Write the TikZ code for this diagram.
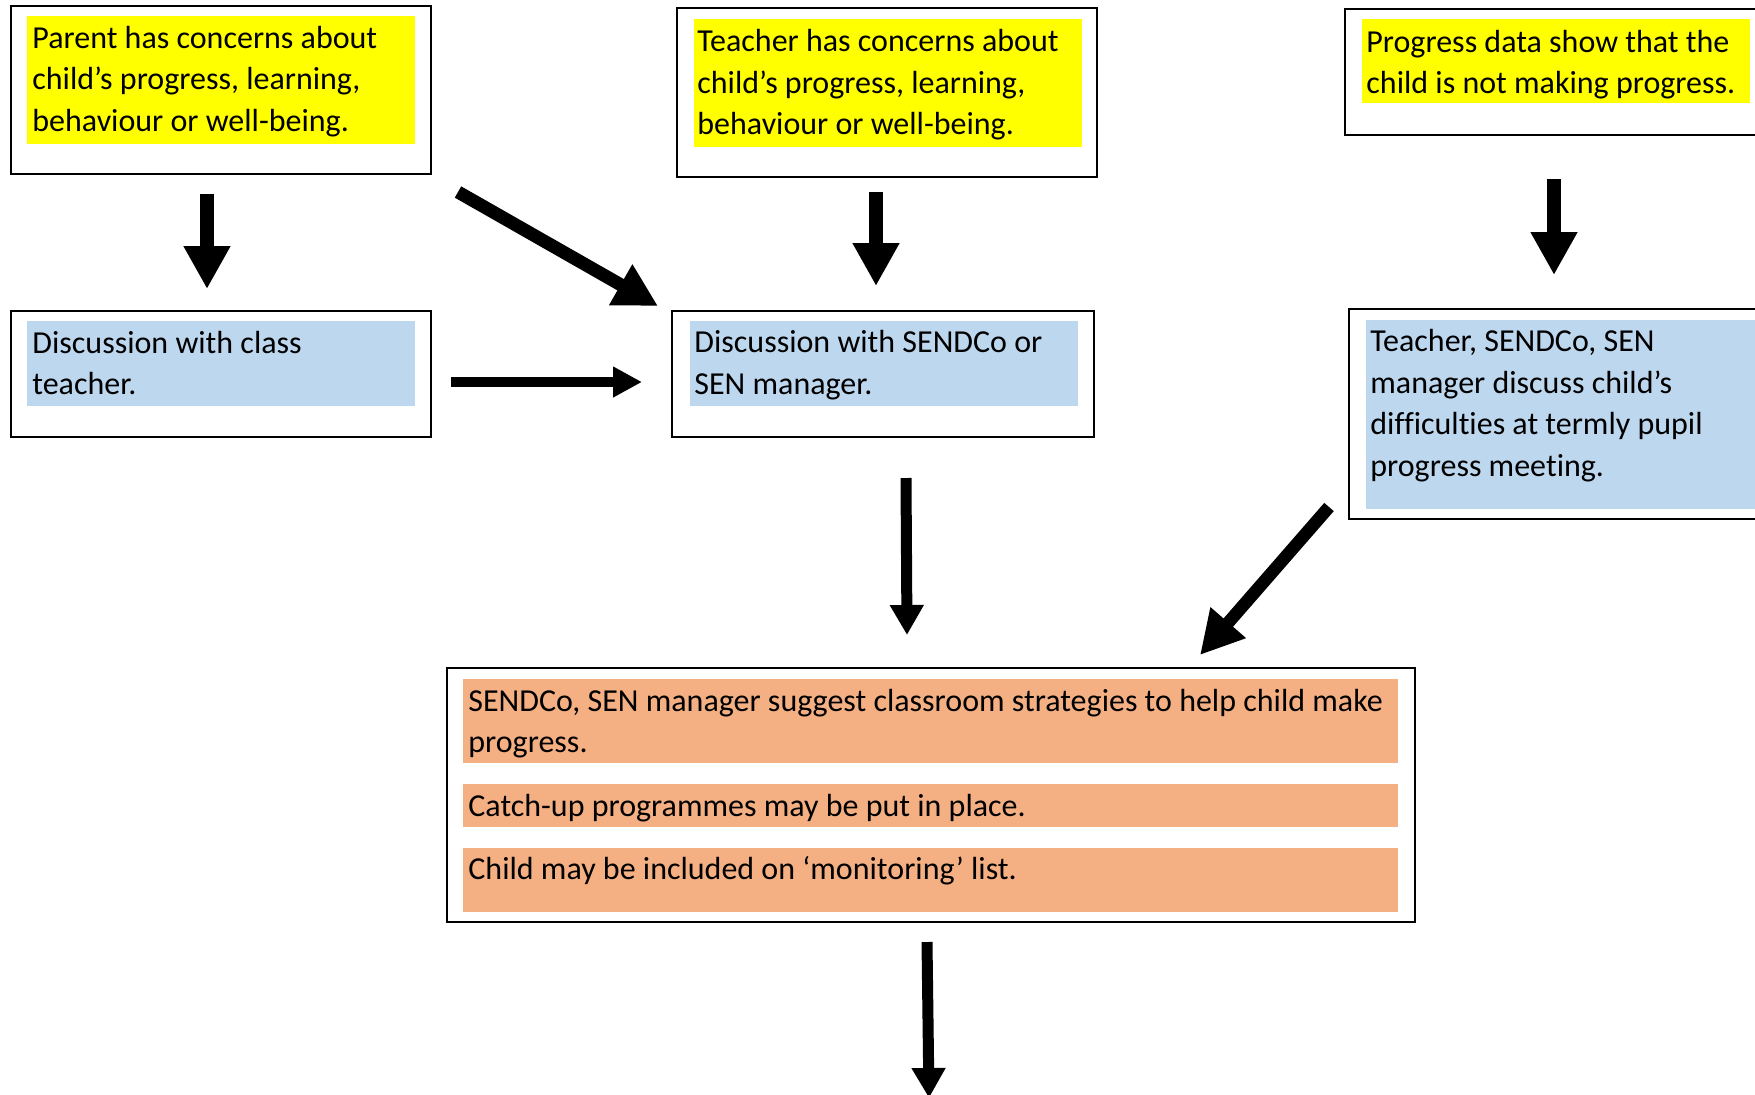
\documentclass[tikz,border=0pt]{standalone}
\usepackage{fontspec}
\setmainfont{Carlito}[Ligatures={NoCommon}]
\usetikzlibrary{arrows.meta,fit}
\definecolor{hlyellow}{HTML}{FFFF00}
\definecolor{hlblue}{HTML}{BDD7EE}
\definecolor{hlorange}{HTML}{F4B083}
\begin{document}
\begin{tikzpicture}[x=0.5pt,y=-0.5pt,
  frame/.style={draw=black,line width=1pt,inner sep=0pt},
  hl/.style={inner sep=0pt,draw=none},
  txt/.style={anchor=base west,inner sep=0pt,font=\fontsize{16pt}{21pt}\selectfont},
  bigarrow/.style={line width=7pt,-{Triangle[width=22pt,length=21.5pt]}},
  thinarrow/.style={line width=5.5pt,-{Triangle[width=16pt,length=15pt]}}]
\useasboundingbox (0,0) rectangle (1755,1094);
\fill[white] (0,0) rectangle (1755,1094);

% boxes
\node[frame,fit={(11,6) (431,174)}] (b1) {};
\node[frame,fit={(677,8) (1097,177)}] (b2) {};
\node[frame,fit={(1345,9) (1762,135)}] (b3) {};
\node[frame,fit={(11,311) (431,437)}] (b4) {};
\node[frame,fit={(672,311) (1094,437)}] (b5) {};
\node[frame,fit={(1349,309) (1762,519)}] (b6) {};
\node[frame,fit={(447,668) (1415,922)}] (b7) {};

% highlights
\node[hl,fill=hlyellow,fit={(27,16) (415,144)}] (h1) {};
\node[hl,fill=hlyellow,fit={(694,19) (1082,147)}] (h2) {};
\node[hl,fill=hlyellow,fit={(1362,19) (1750,103)}] (h3) {};
\node[hl,fill=hlblue,fit={(27,321) (415,406)}] (h4) {};
\node[hl,fill=hlblue,fit={(690,321) (1078,406)}] (h5) {};
\node[hl,fill=hlblue,fit={(1366,320) (1755,509)}] (h6) {};
\node[hl,fill=hlorange,fit={(463,679) (1398,763)}] (h7a) {};
\node[hl,fill=hlorange,fit={(463,784) (1398,827)}] (h7b) {};
\node[hl,fill=hlorange,fit={(463,848) (1398,912)}] (h7c) {};

% texts
\node[txt] (t1a) at (32,48) {Parent has concerns about};
\node[txt] (t1b) at (32,89) {child’s progress, learning,};
\node[txt] (t1c) at (32,131) {behaviour or well-being.};

\node[txt] (t2a) at (697,51) {Teacher has concerns about};
\node[txt] (t2b) at (697,93) {child’s progress, learning,};
\node[txt] (t2c) at (697,134) {behaviour or well-being.};

\node[txt] (t3a) at (1366,52) {Progress data show that the};
\node[txt] (t3b) at (1366,93) {child is not making progress.};

\node[txt] (t4a) at (32,353) {Discussion with class};
\node[txt] (t4b) at (32,394) {teacher.};

\node[txt] (t5a) at (694,352) {Discussion with SENDCo or};
\node[txt] (t5b) at (694,394) {SEN manager.};

\node[txt] (t6a) at (1370,351) {Teacher, SENDCo, SEN};
\node[txt] (t6b) at (1370,393) {manager discuss child’s};
\node[txt] (t6c) at (1370,434) {difficulties at termly pupil};
\node[txt] (t6d) at (1370,476) {progress meeting.};

\node[txt] (t7a) at (468,711) {SENDCo, SEN manager suggest classroom strategies to help child make};
\node[txt] (t7b) at (468,752) {progress.};
\node[txt] (t7c) at (468,816) {Catch-up programmes may be put in place.};
\node[txt] (t7d) at (468,879) {Child may be included on ‘monitoring’ list.};

% arrow end points (arrows do not touch the boxes)
\coordinate (a1s) at (207,194);  \coordinate (a1e) at (207,289);
\coordinate (a2s) at (458,192);  \coordinate (a2e) at (658,306);
\coordinate (a3s) at (876,192);  \coordinate (a3e) at (876,286);
\coordinate (a4s) at (451,382);  \coordinate (a4e) at (642,382);
\coordinate (a5s) at (1554,179); \coordinate (a5e) at (1554,275);
\coordinate (a6s) at (906,478);  \coordinate (a6e) at (907,635);
\coordinate (a7s) at (1329,507); \coordinate (a7e) at (1200,655);
\coordinate (a8s) at (927,942);  \coordinate (a8e) at (929,1098);

\draw[bigarrow] (a1s) -- (a1e);
\draw[bigarrow,line width=6.5pt] (a2s) -- (a2e);
\draw[bigarrow] (a3s) -- (a3e);
\draw[thinarrow,line width=5pt,-{Triangle[width=14.5pt,length=14.5pt]}] (a4s) -- (a4e);
\draw[bigarrow] (a5s) -- (a5e);
\draw[thinarrow] (a6s) -- (a6e);
\draw[bigarrow,line width=6.3pt] (a7s) -- (a7e);
\draw[thinarrow] (a8s) -- (a8e);
\end{tikzpicture}
\end{document}
